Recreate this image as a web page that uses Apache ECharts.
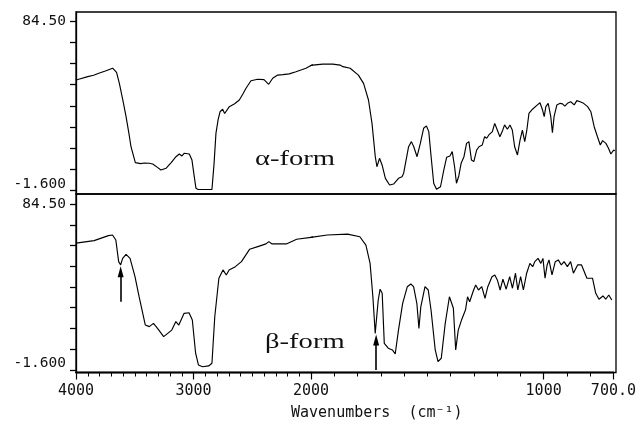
<!DOCTYPE html>
<html><head><meta charset="utf-8">
<script src="https://cdn.jsdelivr.net/npm/echarts@6/dist/echarts.min.js"></script>
<style>html,body{margin:0;padding:0;background:#fff}#c{width:639px;height:426px}</style>
</head><body><div id="c"></div>
<script>
// ---- data ----
const alphaWavenumbers = [4000,3977,3900,3850,3800,3750,3688,3674,3655,3631,3600,3574,3550,3532,3495,3450,3420,3376,3347,3310,3277,3234,3190,3149,3121,3098,3078,3036,3013,2995,2979,2960,2900,2843,2825,2809,2790,2774,2752,2735,2723,2695,2650,2610,2580,2553,2511,2454,2400,2383,2360,2326,2284,2240,2185,2128,2080,2043,1993,1950,1907,1876,1864,1833,1798,1776,1755,1740,1726,1719,1708,1697,1683,1665,1648,1627,1612,1605,1584,1572,1562,1548,1534,1520,1508,1498,1488,1477,1465,1448,1434,1422,1408,1398,1388,1380,1370,1360,1348,1337,1327,1316,1306,1294,1284,1270,1260,1251,1242,1227,1217,1206,1195,1185,1175,1163,1152,1142,1132,1120,1109,1099,1089,1080,1071,1056,1035,1024,1013,1006,999,989,978,971,964,952,938,928,918,907,893,878,867,853,838,821,807,793,779,767,757,743,732,722,710,705];
const alphaValues = [54.6,55.0,56.3,57.0,58.2,59.2,60.6,60.9,58.5,52.9,44.0,35.9,27.5,20.6,12.5,12.0,12.3,12.2,11.8,10.2,8.7,9.6,12.5,15.5,16.9,15.9,17.3,16.9,13.8,6.0,-0.6,-1.2,-1.2,-1.2,12.0,27.4,34.5,38.4,39.7,37.5,36.8,41.0,42.5,44.4,47.5,50.4,54.2,55.0,54.8,54.6,52.4,55.5,57.1,57.3,57.7,58.8,59.8,60.6,62.2,62.7,62.7,62.2,61.4,60.6,57.1,52.9,44.4,32.5,15.5,10.4,14.7,11.3,4.5,1.1,1.6,4.5,5.3,7.1,20.6,23.2,20.6,15.5,22.3,30.0,31.2,28.3,15.5,2.0,-1.1,0.2,8.7,15.2,15.9,18.1,10.4,2.0,5.7,12.2,15.5,22.3,23.2,13.8,13.0,18.9,20.6,21.5,25.7,24.9,26.6,28.3,32.5,29.1,25.7,28.3,31.7,29.5,31.7,29.1,20.6,16.4,24.0,29.1,23.2,29.1,37.6,39.7,41.9,43.0,39.3,35.9,41.0,42.7,35.9,27.7,35.9,41.9,42.7,42.4,41.3,42.7,43.5,41.9,44.1,43.5,42.7,41.0,38.4,30.8,25.7,21.5,23.7,22.3,19.8,16.9,18.9,18.6];

const betaWavenumbers = [4000,3985,3846,3724,3689,3661,3637,3620,3603,3574,3540,3498,3463,3410,3376,3341,3306,3254,3185,3150,3125,3080,3038,3010,2982,2958,2923,2871,2843,2819,2784,2749,2721,2697,2644,2592,2523,2453,2383,2359,2331,2210,2122,2000,1930,1843,1790,1764,1746,1734,1724,1711,1703,1694,1685,1668,1650,1638,1624,1606,1598,1586,1571,1559,1545,1536,1528,1510,1496,1484,1466,1454,1440,1423,1405,1397,1388,1378,1367,1353,1336,1327,1318,1301,1292,1280,1266,1252,1240,1222,1210,1199,1187,1175,1161,1146,1134,1121,1111,1099,1087,1073,1059,1047,1038,1024,1012,1003,994,985,977,964,950,937,924,912,898,884,872,854,837,814,790,776,762,745,733,720,707];
const betaValues = [64.2,64.4,65.5,68.1,68.4,65.8,54.6,52.9,56.3,58.4,56.3,46.8,36.4,21.7,20.9,22.6,20.0,15.7,19.1,23.5,21.7,27.8,28.1,24.3,7.1,1.0,0.1,0.5,1.9,26.0,46.0,50.3,47.7,50.3,52.0,54.6,61.0,62.4,63.8,65.0,63.8,63.8,66.2,67.2,68.4,68.9,67.5,63.2,53.7,36.4,17.4,34.7,40.3,38.2,12.2,9.7,8.8,6.7,19.1,33.0,33.8,41.6,43.0,41.6,33.0,20.0,31.2,41.6,39.9,29.5,8.8,2.7,4.5,22.6,36.4,37.3,30.4,8.8,19.1,24.3,29.5,36.4,33.8,39.9,42.5,39.9,41.6,35.6,41.6,46.8,47.7,45.1,39.9,45.5,40.3,46.8,40.8,48.6,39.9,46.8,39.9,48.6,53.7,52.0,54.6,56.3,53.7,56.3,46.0,52.9,55.5,47.7,54.6,55.5,52.9,54.6,52.0,54.6,48.6,52.9,52.9,46.0,46.0,38.2,35.1,36.8,35.1,37.3,34.7];

const yLimits = [-1.6, 84.5];            // printed y range
const yTickLabels = ['-1.600', '84.50'];
const xMajorTicks = [4000, 3000, 2000, 1000, 700];
const xTickLabels = ['4000', '3000', '2000', '1000', '700.0'];
const panelLabels = ['α-form', 'β-form'];
const axisTitle = 'Wavenumbers  (cm⁻¹)';
// arrows in β panel: [wavenumber, from value, to value]
const arrowMarks = [[3620, 33.8, 49.4], [1720, -1.6, 14.0]];

// ---- build option ----
const FONT_MONO = 'DejaVu Sans Mono';
const INK = '#111';
const yTicks = Array.from({length: 9}, (_, i) => yLimits[0] + i * (yLimits[1] - yLimits[0]) / 8);
const xMinorTicks = Array.from({length: 34}, (_, i) => 4000 - i * 100);
const splitAt = 2000;

const L = 76, R = 616, W = 639;
const xSplitPx = 311;
const panels = [
  {top: 12, height: 182, yMin: -3.49, yMax: 89.24},
  {top: 194, height: 178.5, yMin: -2.9, yMax: 89.69}
];

const grid = [], xAxis = [], yAxis = [], series = [];
const axisLineStyle = {show: true, onZero: false, lineStyle: {color: '#000', width: 1.3}};

// grids 0,1: frames (their y axes carry the y ticks)
panels.forEach(p => {
  grid.push({left: L, right: W - R, top: p.top, height: p.height, show: true,
    borderColor: '#000', borderWidth: 1.3, backgroundColor: 'transparent', containLabel: false});
});
// grids 2..5: data (top-left, top-right, bottom-left, bottom-right)
panels.forEach(p => {
  grid.push({left: L, width: xSplitPx - L, top: p.top, height: p.height, show: false});
  grid.push({left: xSplitPx, width: R - xSplitPx, top: p.top, height: p.height, show: false});
});
panels.forEach((p, g) => {
  xAxis.push({type: 'value', gridIndex: g, show: false, min: 0, max: 1});
  yAxis.push({
    type: 'value', gridIndex: g, min: p.yMin, max: p.yMax, position: 'left',
    axisLine: axisLineStyle, splitLine: {show: false},
    axisTick: {show: true, length: 6, customValues: yTicks, lineStyle: {color: '#000', width: 1.3}},
    axisLabel: {show: false}
  });
});

function xLabelFmt(v) {
  const i = xMajorTicks.findIndex(t => Math.abs(t - v) < 0.5);
  return i >= 0 ? xTickLabels[i] : '';
}
function yLabelFmt(v) {
  if (Math.abs(v - yLimits[0]) < 1e-6) return yTickLabels[0] + '\n';
  if (Math.abs(v - yLimits[1]) < 1e-6) return yTickLabels[1];
  return '';
}

panels.forEach((p, pi) => {
  const bottomPanel = pi === 1;
  [0, 1].forEach(side => {
    const gi = 2 + pi * 2 + side;
    const min = side === 0 ? splitAt : 700;
    const max = side === 0 ? 4000 : splitAt;
    const majors = xMajorTicks.filter(t => side === 0 ? t >= splitAt : t < splitAt);
    xAxis.push({
      type: 'value', gridIndex: gi, min, max, inverse: true, position: 'bottom',
      show: bottomPanel,
      axisLine: axisLineStyle,
      splitLine: {show: false},
      axisTick: {show: true, length: 7, customValues: majors, lineStyle: {color: '#000', width: 1.2}},
      axisLabel: {show: true, customValues: majors, formatter: xLabelFmt, showMinLabel: true, showMaxLabel: true,
        fontFamily: FONT_MONO, fontSize: 15, color: INK, margin: 11}
    });
    yAxis.push({
      type: 'value', gridIndex: gi, min: p.yMin, max: p.yMax, position: 'left',
      show: side === 0,
      axisLine: {show: false, onZero: false},
      splitLine: {show: false},
      axisTick: {show: false},
      axisLabel: {show: true, customValues: yLimits, formatter: yLabelFmt,
        fontFamily: FONT_MONO, fontSize: 14.5, color: INK, margin: 10, lineHeight: 13}
    });
  });
});
// x axes 6,7: minor x ticks on the bottom panel
[4, 5].forEach((gi, side) => {
  const min = side === 0 ? splitAt : 700;
  const max = side === 0 ? 4000 : splitAt;
  xAxis.push({
    type: 'value', gridIndex: gi, min, max, inverse: true, position: 'bottom',
    axisLine: axisLineStyle, splitLine: {show: false},
    axisTick: {show: true, length: 4, customValues: xMinorTicks.filter(t => t >= min && t <= max),
      lineStyle: {color: '#000', width: 1}},
    axisLabel: {show: false}
  });
});

const spectra = [
  alphaWavenumbers.map((w, i) => [w, alphaValues[i]]),
  betaWavenumbers.map((w, i) => [w, betaValues[i]])
];

spectra.forEach((data, pi) => {
  [0, 1].forEach(side => {
    const idx = 2 + pi * 2 + side;
    const s = {
      type: 'line', xAxisIndex: idx, yAxisIndex: idx, data,
      showSymbol: false, symbol: 'none', clip: true, smooth: false,
      lineStyle: {color: '#000', width: 1.15}, silent: true
    };
    if (pi === 1) {
      const marks = arrowMarks.filter(a => side === 0 ? a[0] >= splitAt : a[0] < splitAt);
      if (marks.length) {
        s.markLine = {
          silent: true, symbol: ['none', 'triangle'], symbolSize: [6, 11],
          label: {show: false},
          lineStyle: {color: '#000', width: 1.6, type: 'solid'},
          data: marks.map(a => [{coord: [a[0], a[1]]}, {coord: [a[0], a[2]]}])
        };
      }
    }
    series.push(s);
  });
});

const option = {
  animation: false,
  backgroundColor: '#fff',
  grid, xAxis, yAxis, series,
  graphic: [
    {type: 'text', x: 255, y: 148, scaleX: 1.3, silent: true,
      style: {text: panelLabels[0], font: '22px "Liberation Serif"', fill: INK}},
    {type: 'text', x: 265, y: 331, scaleX: 1.3, silent: true,
      style: {text: panelLabels[1], font: '22px "Liberation Serif"', fill: INK}},
    {type: 'text', x: 291, y: 406, silent: true,
      style: {text: axisTitle, font: '15px "DejaVu Sans Mono"', fill: INK}}
  ]
};
const chart = echarts.init(document.getElementById('c'), null, {renderer: 'canvas'});
chart.setOption(option);
</script></body></html>
